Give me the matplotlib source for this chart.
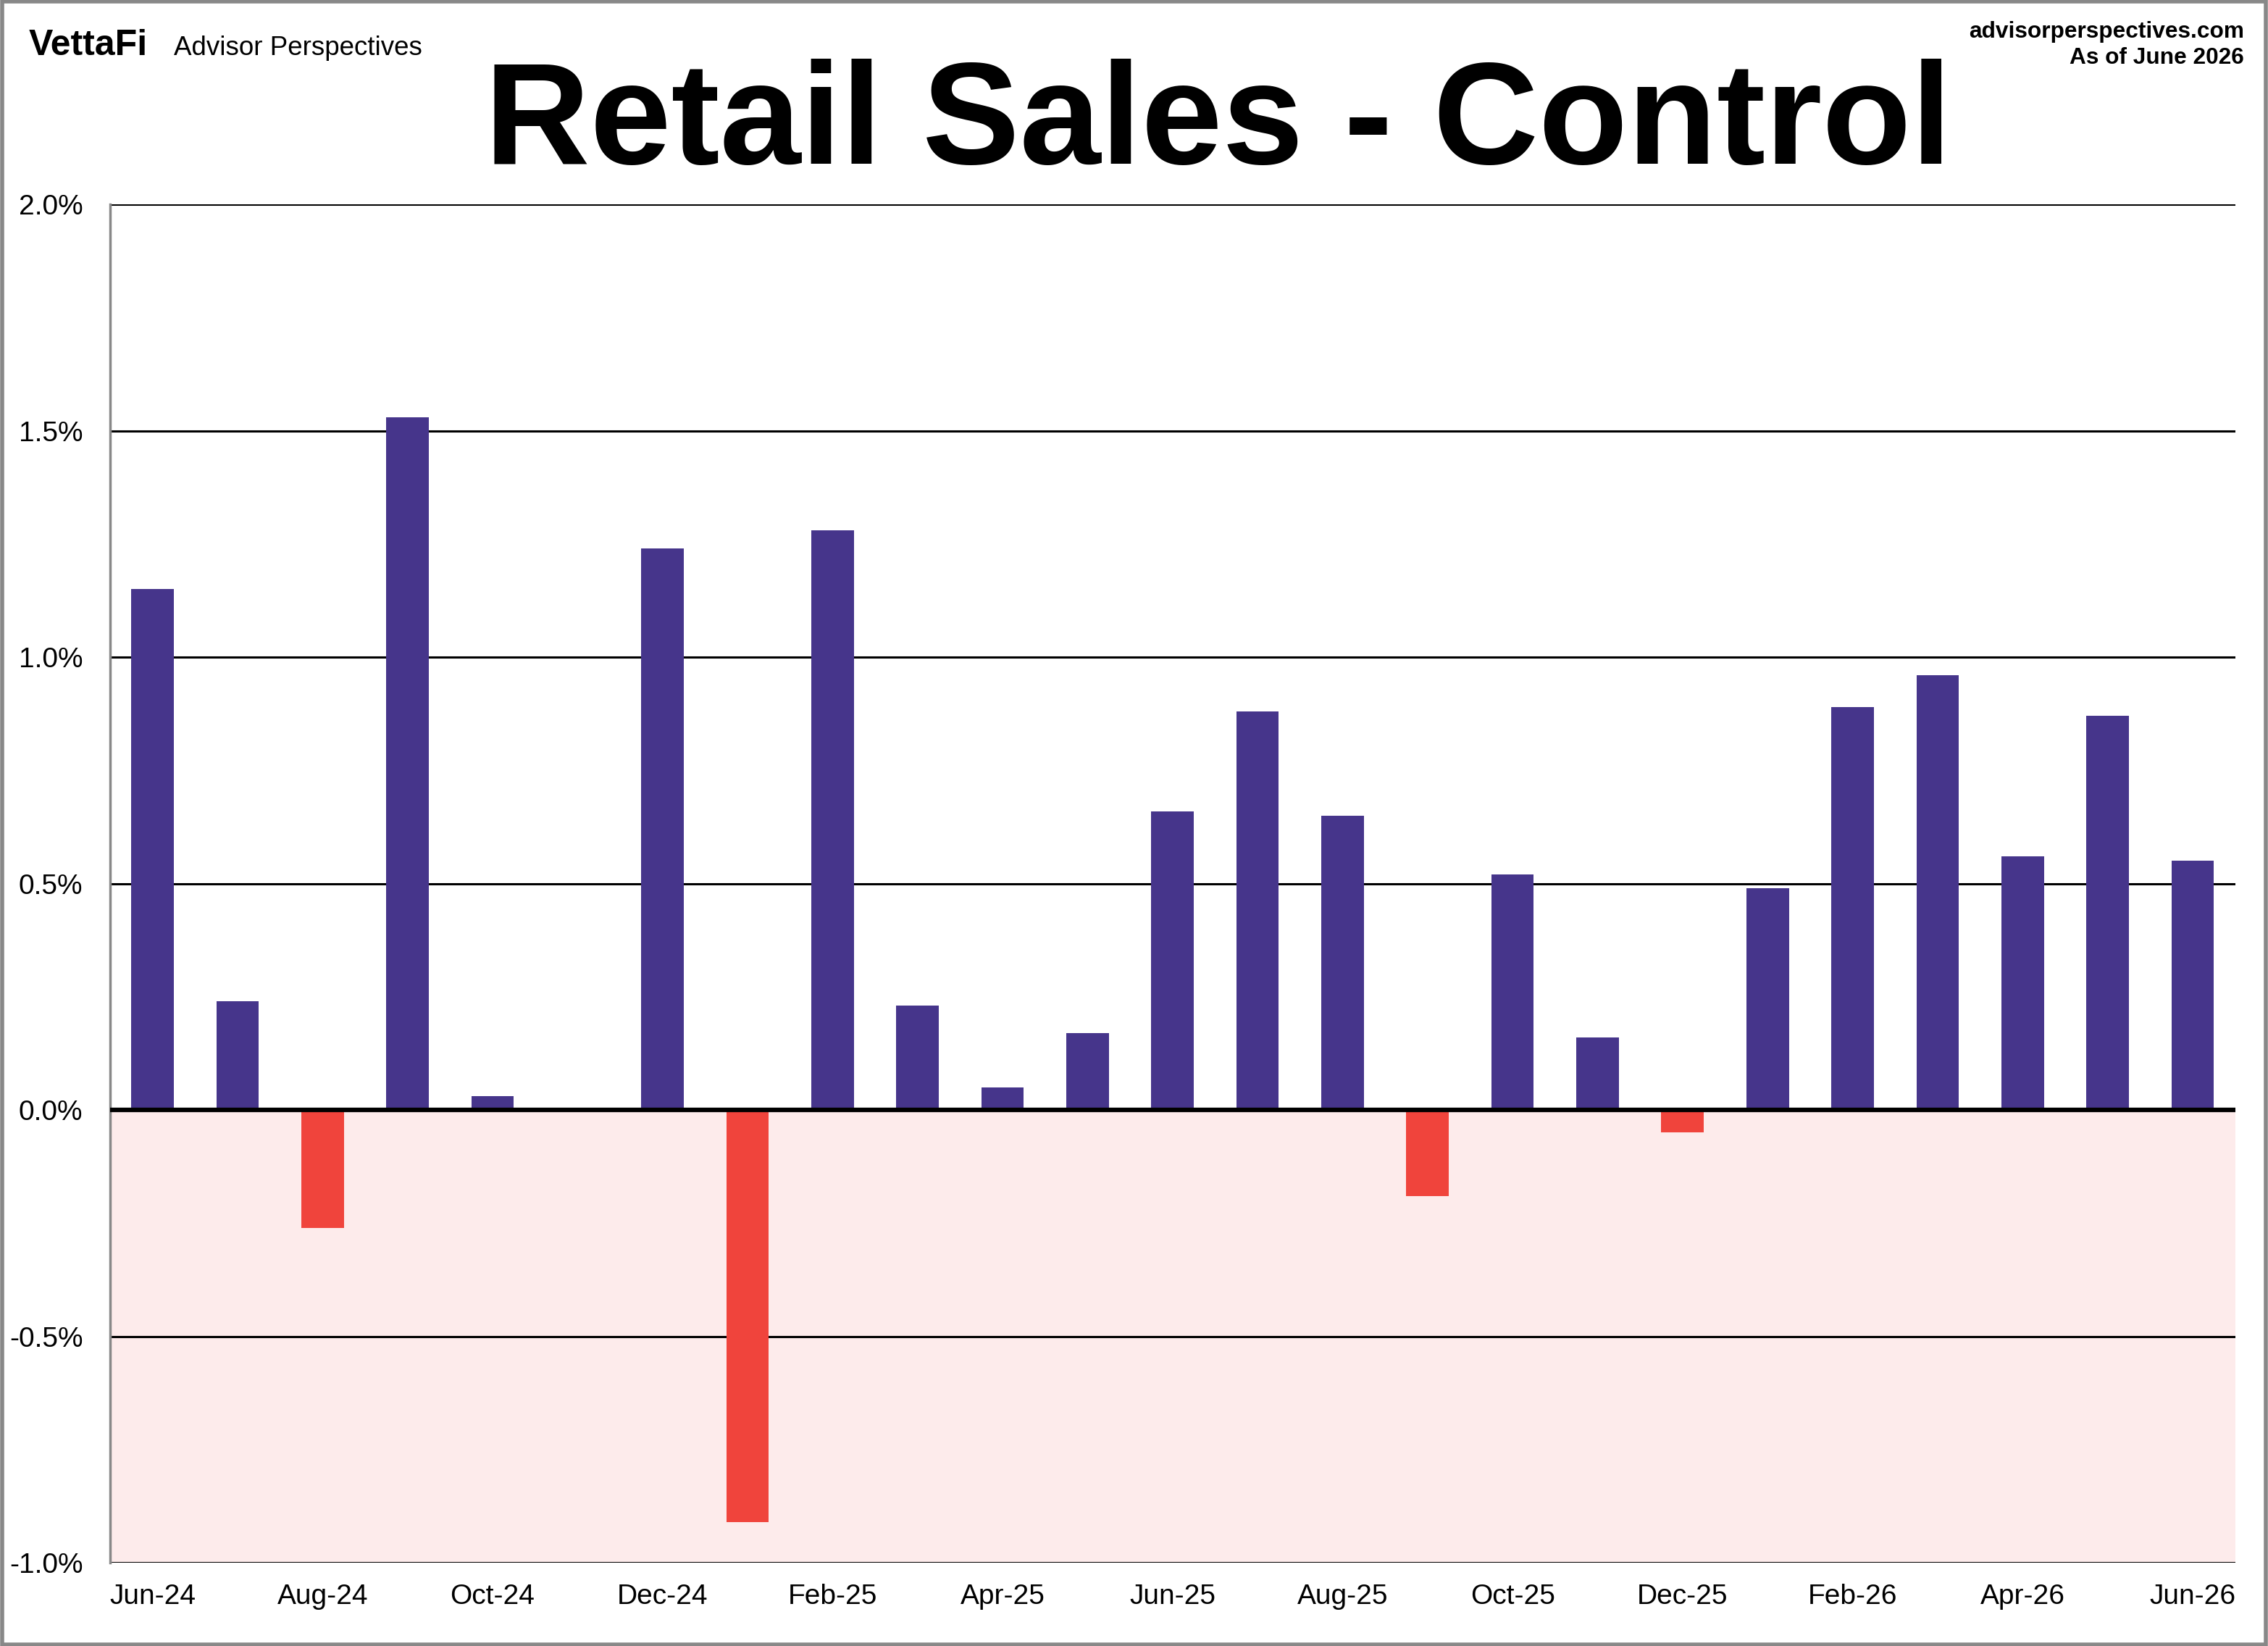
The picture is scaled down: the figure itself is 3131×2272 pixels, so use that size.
"""Retail Sales - Control: monthly % change, Jun-24 to Jun-26."""
import numpy as np
import matplotlib
matplotlib.use("Agg")
import matplotlib.pyplot as plt
from matplotlib.patches import Rectangle

plt.rcParams["font.family"] = ["Liberation Sans", "DejaVu Sans"]

months = ["Jun-24", "Jul-24", "Aug-24", "Sep-24", "Oct-24", "Nov-24", "Dec-24",
          "Jan-25", "Feb-25", "Mar-25", "Apr-25", "May-25", "Jun-25", "Jul-25",
          "Aug-25", "Sep-25", "Oct-25", "Nov-25", "Dec-25", "Jan-26", "Feb-26",
          "Mar-26", "Apr-26", "May-26", "Jun-26"]
change = [1.15, 0.24, -0.26, 1.53, 0.03, 0.00, 1.24,
          -0.91, 1.28, 0.23, 0.05, 0.17, 0.66, 0.88,
          0.65, -0.19, 0.52, 0.16, -0.05, 0.49, 0.89,
          0.96, 0.56, 0.87, 0.55]
yticks = [-1.0, -0.5, 0.0, 0.5, 1.0, 1.5, 2.0]

PURPLE = "#46358b"
RED = "#f0443c"
PINK = "#fdebeb"

fig = plt.figure(figsize=(31.31, 22.72), dpi=100)
ax = fig.add_axes([0.0485, 0.0505, 0.9370, 0.8254])

x = np.arange(len(months))
vals = np.array(change)
colors = [PURPLE if v >= 0 else RED for v in vals]
ax.bar(x, vals, width=0.5, color=colors, zorder=2)

# shaded negative zone + horizontal rules
ax.axhspan(-1.0, 0.0, color=PINK, zorder=0, lw=0)
for y in yticks:
    if y == 0:
        continue
    ax.axhline(y, color="black", lw=2.2, zorder=1)
ax.axhline(0, color="black", lw=4.5, zorder=3)

ax.set_xlim(-0.5, len(months) - 0.5)
ax.set_ylim(-1.0, 2.0)
ax.set_yticks(yticks)
ax.set_yticklabels([f"{y:.1f}%" for y in yticks])
ax.set_xticks(x[::2])
ax.set_xticklabels(months[::2])
ax.tick_params(axis="both", length=0, labelsize=28)
ax.tick_params(axis="y", pad=27)
ax.tick_params(axis="x", pad=21)

for s in ["top", "right", "bottom"]:
    ax.spines[s].set_visible(False)
ax.spines["left"].set_color("#888888")
ax.spines["left"].set_linewidth(2.5)

fig.text(0.537, 0.9005, "Retail Sales - Control", ha="center", va="baseline",
         fontsize=145, fontweight="bold")
fig.text(0.0128, 0.9665, "VettaFi", ha="left", va="baseline",
         fontsize=36, fontweight="bold")
fig.text(0.0767, 0.9665, "Advisor Perspectives", ha="left", va="baseline",
         fontsize=26.5)
fig.text(0.9895, 0.9771, "advisorperspectives.com", ha="right", va="baseline",
         fontsize=22.8, fontweight="bold")
fig.text(0.9895, 0.9613, "As of June 2026", ha="right", va="baseline",
         fontsize=22.8, fontweight="bold")

fig.patches.append(Rectangle((0.001, 0.001), 0.998, 0.998, transform=fig.transFigure,
                             fill=False, edgecolor="#888888", lw=4))

fig.savefig("out.png", dpi=100)
